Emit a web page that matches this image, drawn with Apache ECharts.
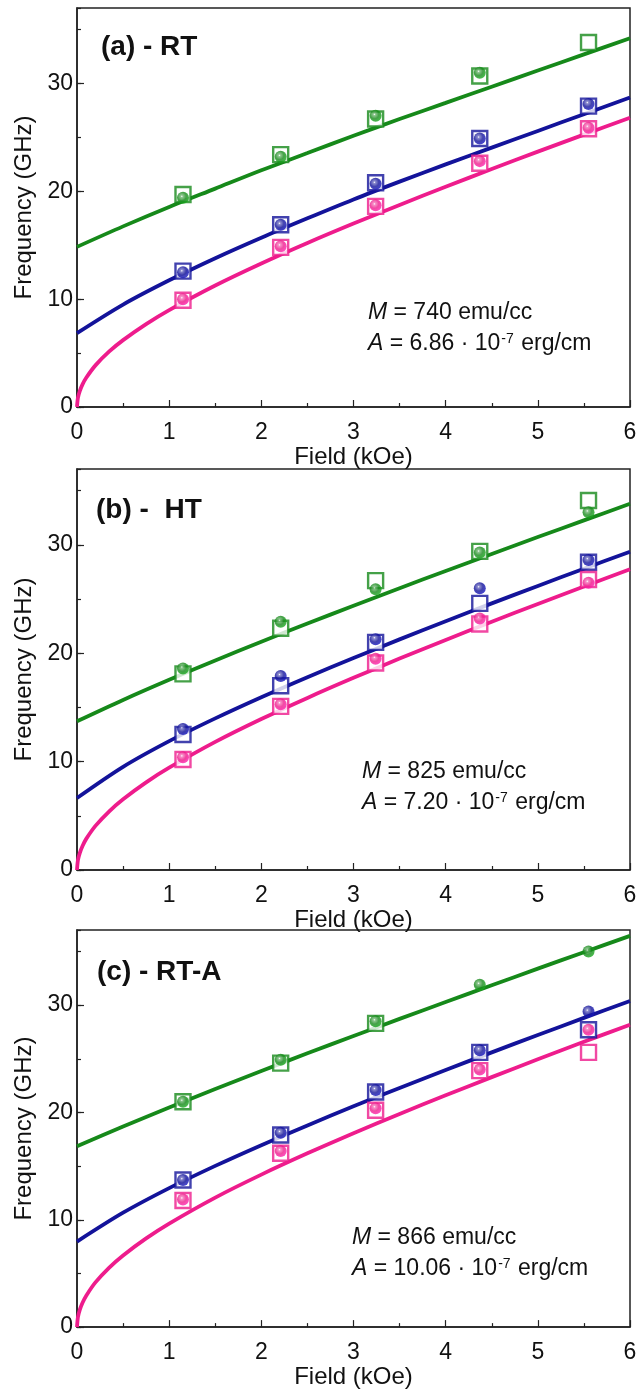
<!DOCTYPE html>
<html>
<head>
<meta charset="utf-8">
<script src="https://cdn.jsdelivr.net/npm/echarts@6/dist/echarts.min.js"></script>
<style>
html,body{margin:0;padding:0;background:#fff;}
#chart{width:640px;height:1390px;}
</style>
</head>
<body>
<div id="chart"></div>
<script>
// ---------- data ----------
const fieldX = [1.15, 2.21, 3.24, 4.37, 5.55];
const fitX = [0, 0.5, 1, 1.5, 2, 2.5, 3, 3.5, 4, 4.5, 5, 5.5, 6];
const fitXPink = [0, 0.01, 0.03, 0.06, 0.1, 0.2, 0.35, 0.5, 0.75, 1, 1.5, 2, 2.5, 3, 3.5, 4, 4.5, 5, 5.5, 6];
const xTicks = [0, 1, 2, 3, 4, 5, 6];
const yTicks = [0, 10, 20, 30];

const panelLabels = ['(a) - RT', '(b) -  HT', '(c) - RT-A'];
const mValues = ['740', '825', '866'];
const aValues = ['6.86', '7.20', '10.06'];

// panel (a) RT
const a_sqGreen = [19.7, 23.4, 26.7, 30.7, 33.8];
const a_ballGreen = [19.4, 23.2, 27.0, 31.0, null];
const a_sqBlue = [12.6, 16.9, 20.8, 24.9, 27.9];
const a_ballBlue = [12.5, 16.9, 20.7, 24.9, 28.1];
const a_sqPink = [9.9, 14.8, 18.6, 22.6, 25.8];
const a_ballPink = [10.0, 14.9, 18.7, 22.8, 25.9];
const a_fitGreen = [14.85, 16.75, 18.55, 20.25, 21.95, 23.55, 25.15, 26.7, 28.2, 29.7, 31.2, 32.7, 34.2];
const a_fitBlue = [6.85, 9.5, 11.75, 13.8, 15.7, 17.5, 19.25, 20.9, 22.5, 24.05, 25.6, 27.15, 28.7];
const a_fitPink = [0, 0.85, 1.48, 2.10, 2.71, 3.86, 5.15, 6.20, 7.69, 8.99, 11.27, 13.31, 15.21, 17.01, 18.74, 20.42, 22.07, 23.68, 25.26, 26.83];

// panel (b) HT
const b_sqGreen = [18.1, 22.3, 26.7, 29.4, 34.1];
const b_ballGreen = [18.6, 22.9, 25.9, 29.3, 33.0];
const b_sqBlue = [12.5, 17.0, 21.0, 24.6, 28.4];
const b_ballBlue = [13.0, 17.9, 21.3, 26.0, 28.6];
const b_sqPink = [10.2, 15.1, 19.1, 22.7, 26.8];
const b_ballPink = [10.4, 15.3, 19.5, 23.2, 26.5];
const b_fitGreen = [13.72, 15.69, 17.55, 19.33, 21.06, 22.74, 24.38, 26.00, 27.59, 29.16, 30.72, 32.26, 33.79];
const b_fitBlue = [6.64, 9.52, 11.89, 13.99, 15.94, 17.79, 19.56, 21.28, 22.96, 24.60, 26.21, 27.80, 29.37];
const b_fitPink = [0, 0.90, 1.56, 2.21, 2.87, 4.07, 5.42, 6.53, 8.09, 9.44, 11.82, 13.93, 15.88, 17.73, 19.51, 21.23, 22.90, 24.55, 26.16, 27.75];

// panel (c) RT-A
const c_sqGreen = [21.0, 24.6, 28.3, null, null];
const c_ballGreen = [21.0, 24.9, 28.5, 31.9, 35.0];
const c_sqBlue = [13.7, 17.9, 21.9, 25.6, 27.7];
const c_ballBlue = [13.7, 18.1, 22.1, 25.8, 29.4];
const c_sqPink = [11.8, 16.2, 20.2, 23.9, 25.6];
const c_ballPink = [11.9, 16.4, 20.4, 24.0, 27.7];
const c_fitGreen = [16.84, 18.69, 20.46, 22.18, 23.86, 25.51, 27.12, 28.72, 30.29, 31.85, 33.40, 34.93, 36.45];
const c_fitBlue = [7.97, 10.66, 12.95, 15.02, 16.95, 18.79, 20.57, 22.28, 23.96, 25.60, 27.22, 28.81, 30.39];
const c_fitPink = [0, 0.92, 1.60, 2.27, 2.93, 4.17, 5.55, 6.68, 8.27, 9.65, 12.07, 14.21, 16.19, 18.07, 19.86, 21.60, 23.29, 24.95, 26.58, 28.18];

// ---------- styling ----------
const FONT = '"Liberation Sans", Arial, sans-serif';
const GREEN = '#16891a';
const BLUE = '#13139a';
const PINK = '#ee1c8c';

const panels = [
  {top: 8, height: 399,
   sq: [a_sqGreen, a_sqBlue, a_sqPink], ball: [a_ballGreen, a_ballBlue, a_ballPink],
   fit: [a_fitGreen, a_fitBlue, a_fitPink],
   lab: {x: 101, y: 47}, mText: {x: 368, y: 313}},
  {top: 469, height: 401,
   sq: [b_sqGreen, b_sqBlue, b_sqPink], ball: [b_ballGreen, b_ballBlue, b_ballPink],
   fit: [b_fitGreen, b_fitBlue, b_fitPink],
   lab: {x: 96, y: 510}, mText: {x: 362, y: 772}},
  {top: 930, height: 401,
   sq: [c_sqGreen, c_sqBlue, c_sqPink], ball: [c_ballGreen, c_ballBlue, c_ballPink],
   fit: [c_fitGreen, c_fitBlue, c_fitPink],
   lab: {x: 97, y: 972}, mText: {x: 352, y: 1238}}
];
const colors = [GREEN, BLUE, PINK];

function zip(xs, ys) { return xs.map((x, i) => [x, ys[i]]); }
function ballColor(c) {
  return {type: 'radial', x: 0.4, y: 0.38, r: 0.65,
    colorStops: [{offset: 0, color: '#ffffff'}, {offset: 0.15, color: echarts.color.lift(c, 0.4)}, {offset: 0.55, color: c}, {offset: 1, color: echarts.color.lift(c, -0.25)}]};
}

const grid = [], xAxis = [], yAxis = [], series = [], graphic = [];
panels.forEach((p, k) => {
  grid.push({left: 77, right: 10, top: p.top, height: p.height, show: true,
    borderColor: '#222', borderWidth: 1.5, backgroundColor: 'transparent'});
  xAxis.push({type: 'value', gridIndex: k, min: 0, max: 6, interval: 1,
    name: 'Field (kOe)', nameLocation: 'middle', nameGap: 30,
    nameTextStyle: {fontFamily: FONT, fontSize: 24, color: '#111'},
    axisLine: {show: true, onZero: false, lineStyle: {color: '#222', width: 1.5}},
    axisTick: {show: true, inside: true, length: 7, lineStyle: {color: '#222', width: 1.2}},
    minorTick: {show: true, splitNumber: 2, length: 4, lineStyle: {color: '#222', width: 1.2}},
    axisLabel: {fontFamily: FONT, fontSize: 23, color: '#111', margin: 14,
      formatter: v => xTicks.indexOf(v) >= 0 ? String(v) : ''},
    splitLine: {show: false}});
  yAxis.push({type: 'value', gridIndex: k, min: 0, max: 37, interval: 10,
    name: 'Frequency (GHz)', nameLocation: 'middle', nameGap: 39,
    nameTextStyle: {fontFamily: FONT, fontSize: 24, color: '#111'},
    axisLine: {show: true, onZero: false, lineStyle: {color: '#222', width: 1.5}},
    axisTick: {show: true, inside: true, length: 7, lineStyle: {color: '#222', width: 1.2}},
    axisLabel: {fontFamily: FONT, fontSize: 23, color: '#111', margin: 4, showMaxLabel: false,
      formatter: v => yTicks.indexOf(v) >= 0 ? String(v) : ''},
    splitLine: {show: false}});
  // minor tick axis (every 5 GHz)
  yAxis.push({type: 'value', gridIndex: k, min: 0, max: 37, interval: 5, position: 'left',
    axisLine: {show: false}, axisLabel: {show: false}, splitLine: {show: false},
    axisTick: {show: true, inside: true, length: 4, lineStyle: {color: '#222', width: 1.2}}});
  const yIdx = k * 2;
  // fit lines
  p.fit.forEach((f, j) => {
    series.push({type: 'line', xAxisIndex: k, yAxisIndex: yIdx, z: 2,
      data: zip(j === 2 ? fitXPink : fitX, f), smooth: 0.3,
      showSymbol: false, symbol: 'none', silent: true,
      lineStyle: {color: colors[j], width: 3.8}});
  });
  // open squares
  p.sq.forEach((s, j) => {
    series.push({type: 'scatter', xAxisIndex: k, yAxisIndex: yIdx, z: 3,
      data: zip(fieldX, s).filter(d => d[1] != null), symbol: 'rect', symbolSize: 15,
      itemStyle: {color: '#ffffff', borderColor: colors[j], borderWidth: 2.4}});
  });
  // balls
  p.ball.forEach((b, j) => {
    series.push({type: 'scatter', xAxisIndex: k, yAxisIndex: yIdx, z: 4,
      data: zip(fieldX, b).filter(d => d[1] != null), symbol: 'circle', symbolSize: 12,
      itemStyle: {color: ballColor(colors[j])}});
  });
  graphic.push({type: 'text', x: p.lab.x, y: p.lab.y, z: 10,
    style: {text: panelLabels[k], font: 'bold 28px ' + FONT, fill: '#111', verticalAlign: 'middle'}});
  graphic.push({type: 'text', x: p.mText.x, y: p.mText.y, z: 10,
    style: {text: '{i|M} = ' + mValues[k] + ' emu/cc', font: '23px ' + FONT, fill: '#111', verticalAlign: 'middle',
      rich: {i: {fontStyle: 'italic', fontSize: 23, fontFamily: FONT, fill: '#111'}}}});
  graphic.push({type: 'text', x: p.mText.x, y: p.mText.y + 31, z: 10,
    style: {text: '{i|A} = ' + aValues[k] + ' \u00b7 10{s|-7} erg/cm', font: '23px ' + FONT, fill: '#111', verticalAlign: 'middle',
      rich: {i: {fontStyle: 'italic', fontSize: 23, fontFamily: FONT, fill: '#111'},
             s: {fontSize: 14, fontFamily: FONT, fill: '#111', verticalAlign: 'top', padding: [0, 1, 10, 1]}}}});
});

const chart = echarts.init(document.getElementById('chart'), null, {renderer: 'canvas'});
chart.setOption({animation: false, backgroundColor: '#ffffff', grid, xAxis, yAxis, series, graphic});
</script>
</body>
</html>
